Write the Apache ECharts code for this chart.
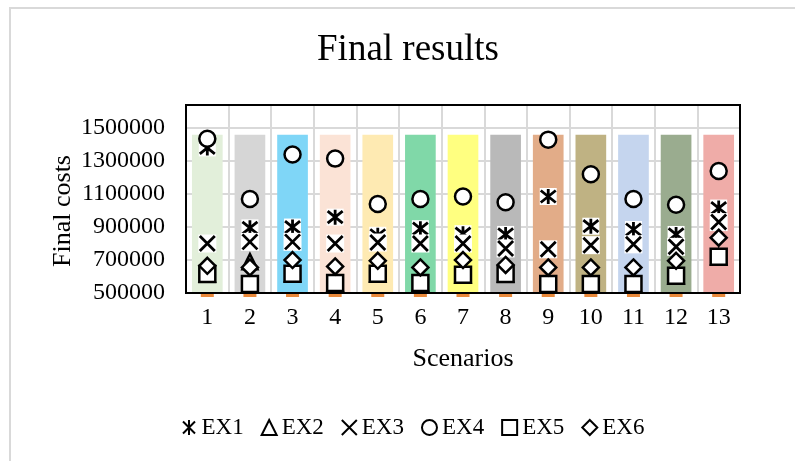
<!DOCTYPE html>
<html>
<head>
<meta charset="utf-8">
<script src="https://cdn.jsdelivr.net/npm/echarts@6/dist/echarts.min.js"></script>
<style>html,body{margin:0;padding:0;background:#fff}#c{width:795px;height:461px}</style>
</head>
<body>
<div id="c"></div>
<script>
// ---- data ----
var categories = ['1','2','3','4','5','6','7','8','9','10','11','12','13'];
var barTop = [1460000,1460000,1460000,1460000,1460000,1460000,1460000,1460000,1460000,1460000,1460000,1460000,1460000];
var baseMark = [500000,500000,500000,500000,500000,500000,500000,500000,500000,500000,500000,500000,500000];
var EX1 = [1380000, 895000, 900000, 960000, 850000, 890000, 860000, 855000, 1085000, 905000, 885000, 855000, 1015000];
var EX2 = [615000, 690000, 617000, 560000, 617000, 560000, 610000, 615000, 555000, 555000, 555000, 605000, 720000];
var EX3 = [800000, 810000, 810000, 800000, 806000, 800000, 800000, 770000, 765000, 790000, 795000, 780000, 930000];
var EX4 = [1435000, 1070000, 1340000, 1315000, 1040000, 1070000, 1085000, 1050000, 1430000, 1220000, 1070000, 1035000, 1240000];
var EX5 = [615000, 555000, 617000, 560000, 617000, 560000, 610000, 615000, 555000, 555000, 555000, 605000, 720000];
var EX6 = [665000, 655000, 700000, 661000, 695000, 655000, 700000, 670000, 655000, 655000, 655000, 695000, 835000];
var yTicks = { min: 500000, max: 1640000, interval: 200000 };

// ---- styles ----
var barColors = ['#E2EFDA','#D6D6D6','#7FD6F7','#FBE3D6','#FEEAB2','#80D8A8','#FFFF80','#B9B9B9','#E2AC88','#BFB283','#C5D5EE','#9AAC8F','#EFACA8'];
var FONT = 'Liberation Serif';
var G = { left: 186, top: 105, right: 55, bottom: 168 };
var W = 795, H = 461;

var chart = echarts.init(document.getElementById('c'), null, {renderer: 'canvas'});

function marker(name, data, symbol, size, z) {
  return {
    name: name, type: 'scatter', data: data, symbol: symbol, symbolSize: size, z: z,
    clip: false,
    itemStyle: { color: '#fff', borderColor: '#000', borderWidth: 2.5, opacity: 1 },
    emphasis: { disabled: true }
  };
}
function lineMarker(name, data, path, size, z) {
  return {
    name: name, type: 'scatter', data: data, symbol: path, symbolSize: size, z: z,
    clip: false,
    itemStyle: { color: 'rgba(0,0,0,0)', borderColor: '#000', borderWidth: 2.8, opacity: 1 },
    emphasis: { disabled: true }
  };
}
function whiteBox(data, size, z) {
  return {
    name: '_bg', type: 'scatter', data: data, symbol: 'rect', symbolSize: size, z: z,
    clip: false, silent: true,
    itemStyle: { color: '#fff', borderWidth: 0, opacity: 1 }
  };
}

var asteriskPath = 'path://M1,1L9,9M9,1L1,9M5,0L5,10';
var crossPath = 'path://M0,0L10,10M10,0L0,10';

var option = {
  animation: false,
  backgroundColor: '#fff',
  grid: { left: G.left, top: G.top, right: G.right, bottom: G.bottom, containLabel: false },
  xAxis: {
    type: 'category', data: categories, boundaryGap: true,
    axisLine: { show: false }, axisTick: { show: false },
    axisLabel: { fontFamily: FONT, fontSize: 24, color: '#000', margin: 13 },
    splitLine: { show: true, lineStyle: { color: '#D9D9D9', width: 2 } },
    name: 'Scenarios', nameLocation: 'middle', nameGap: 53,
    nameTextStyle: { fontFamily: FONT, fontSize: 26, color: '#000' }
  },
  yAxis: {
    type: 'value', min: yTicks.min, max: yTicks.max, interval: yTicks.interval,
    axisLine: { show: false }, axisTick: { show: false },
    axisLabel: { fontFamily: FONT, fontSize: 24, color: '#000', margin: 21, showMaxLabel: false,
      formatter: function (v) { return v > 1500000 ? '' : String(v); } },
    splitLine: { show: true, lineStyle: { color: '#D9D9D9', width: 2 } }
  },
  legend: {
    data: ['EX1','EX2','EX3','EX4','EX5','EX6'],
    left: 182, top: 416, padding: 0, itemWidth: 15, itemHeight: 15, itemGap: 17,
    textStyle: { fontFamily: FONT, fontSize: 23, color: '#000' }
  },
  graphic: [
    { type: 'line', shape: { x1: 9, y1: 8, x2: W, y2: 8 }, style: { stroke: '#D9D9D9', lineWidth: 2 }, silent: true },
    { type: 'line', shape: { x1: 10, y1: 8, x2: 10, y2: H }, style: { stroke: '#D9D9D9', lineWidth: 2 }, silent: true },
    { type: 'rect', z: 100, shape: { x: G.left, y: G.top, width: W - G.left - G.right, height: H - G.top - G.bottom },
      style: { fill: 'none', stroke: '#000', lineWidth: 2 }, silent: true },
    { type: 'text', x: 408, y: 50, style: { text: 'Final results', font: '37px "Liberation Serif"', fill: '#000', align: 'center', verticalAlign: 'middle' } },
    { type: 'text', x: 63, y: 211, rotation: Math.PI / 2, style: { text: 'Final costs', font: '26px "Liberation Serif"', fill: '#000', align: 'center', verticalAlign: 'middle' } }
  ],
  series: [
    { name: '_bars', type: 'bar', barWidth: '72%', z: 1, silent: true,
      data: barTop.map(function (v, i) { return { value: v, itemStyle: { color: barColors[i] } }; }) },
    { name: '_base', type: 'scatter', data: baseMark, symbol: 'rect', symbolSize: [13, 3], symbolOffset: [0, 2.5],
      clip: false, silent: true, z: 101, itemStyle: { color: '#E46C0A' } },
    whiteBox(EX1, 17, 3),
    lineMarker('EX1', EX1, asteriskPath, 15, 4),
    marker('EX2', EX2, 'triangle', 15, 5),
    whiteBox(EX3, 18, 6),
    lineMarker('EX3', EX3, crossPath, 15, 7),
    marker('EX4', EX4, 'circle', 16, 8),
    marker('EX5', EX5, 'rect', 16, 9),
    marker('EX6', EX6, 'diamond', 16, 10)
  ]
};
chart.setOption(option);
</script>
</body>
</html>
